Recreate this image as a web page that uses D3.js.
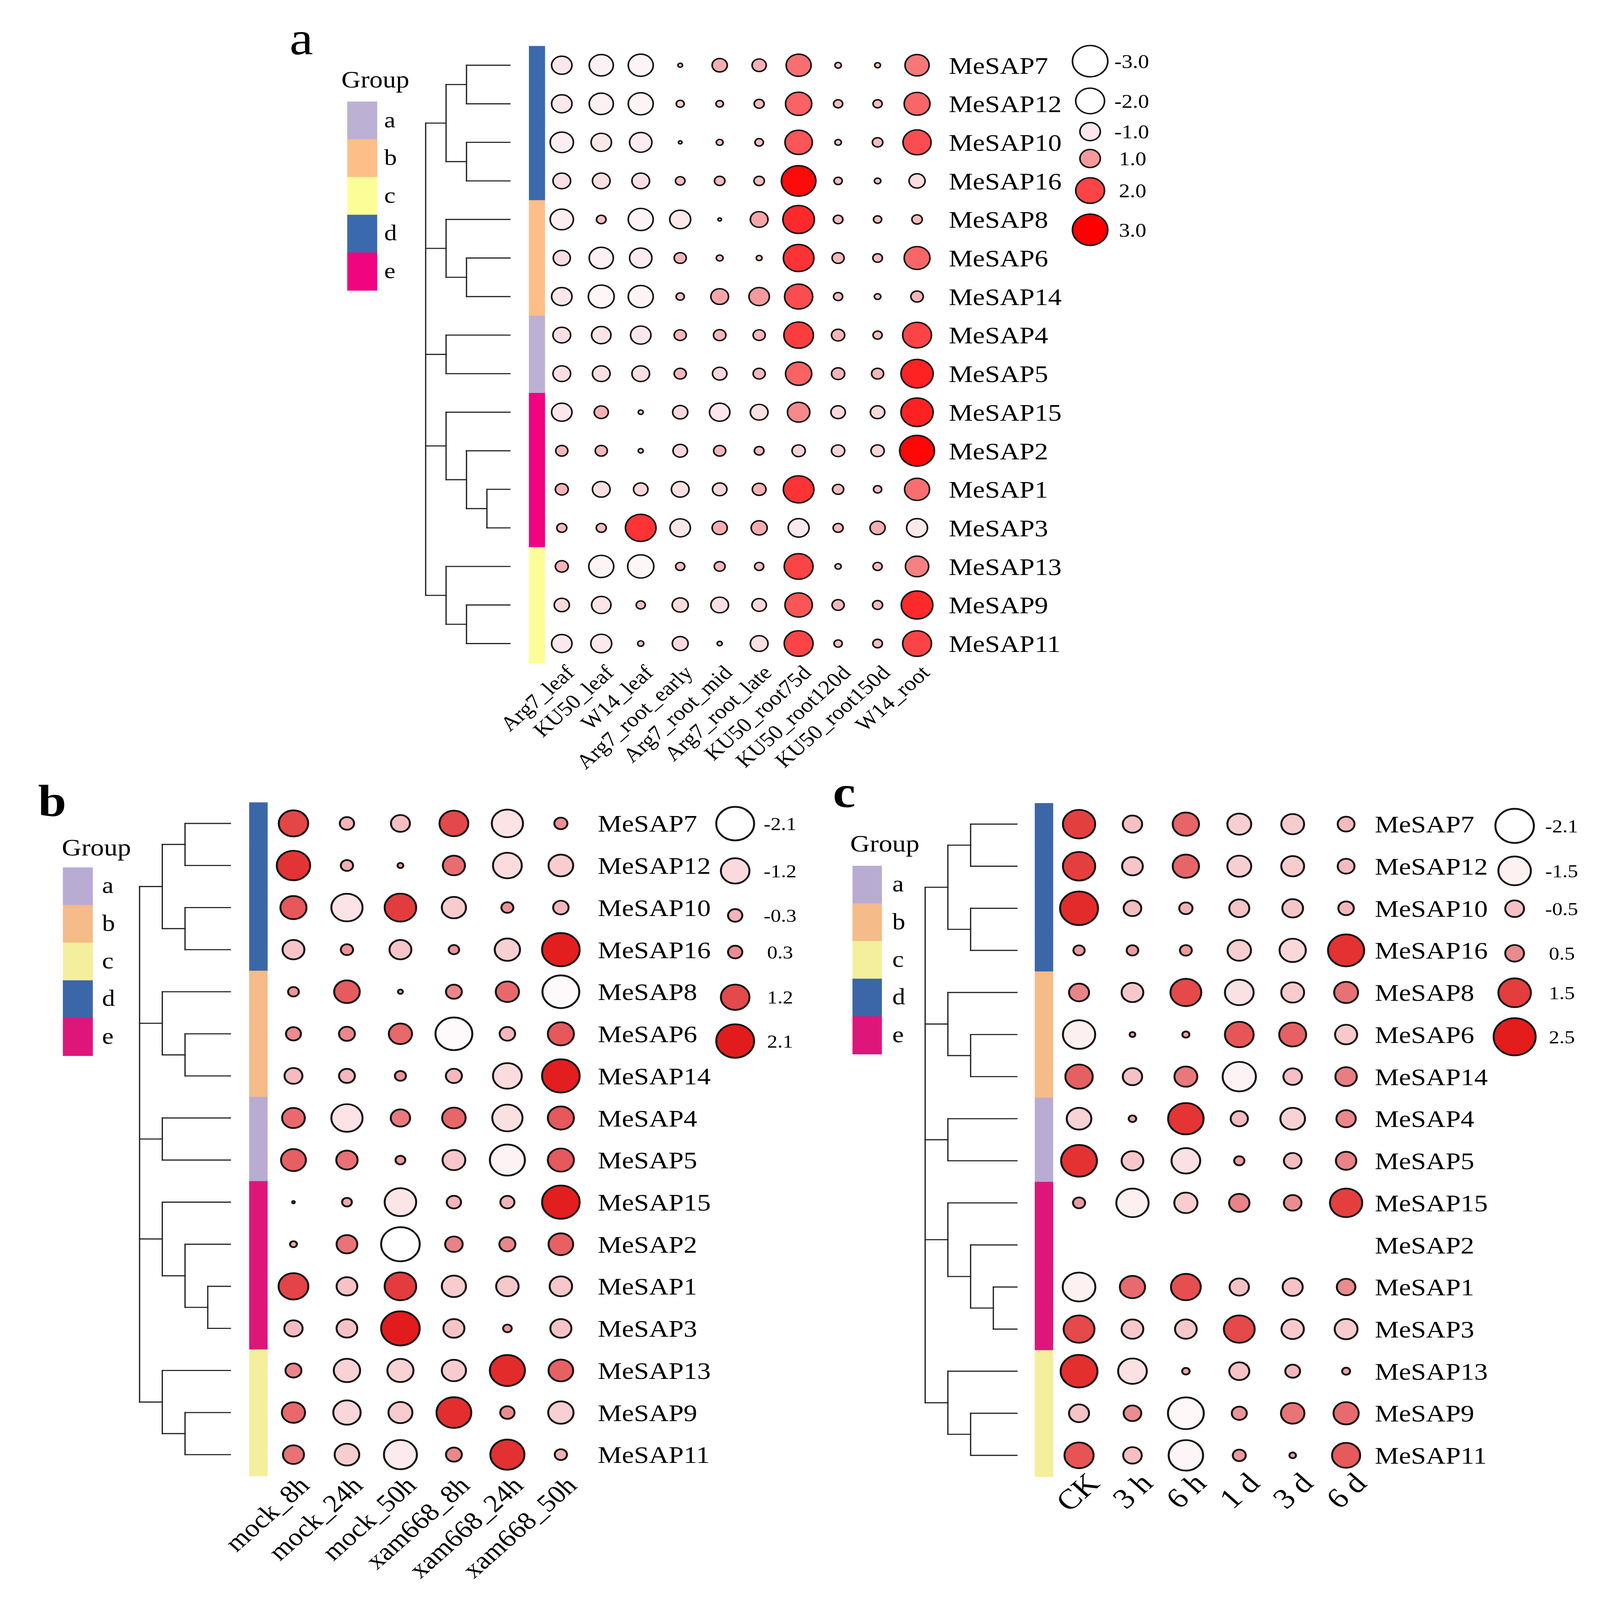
<!DOCTYPE html>
<html lang="en">
<head>
<meta charset="UTF-8">
<title>MeSAP expression bubble heatmaps</title>
<script src="https://d3js.org/d3.v7.min.js"></script>
<style>
  html, body { margin: 0; padding: 0; background: #fff; overflow: hidden; }
  svg { display: block; width: 100vw; height: 100vh;
        font-family: "Liberation Serif", "Times New Roman", serif; }
</style>
</head>
<body>
<svg id="chart"></svg>
<script>
// ---- data ----
const genes = ["MeSAP7","MeSAP12","MeSAP10","MeSAP16","MeSAP8","MeSAP6","MeSAP14","MeSAP4",
               "MeSAP5","MeSAP15","MeSAP2","MeSAP1","MeSAP3","MeSAP13","MeSAP9","MeSAP11"];
const geneGroups = ["d","d","d","d","b","b","b","a","a","e","e","e","e","c","c","c"];
const groupNames = ["a","b","c","d","e"];

// clustering tree shared by the three panels
const treeSpec = [
  [["MeSAP7","MeSAP12"],["MeSAP10","MeSAP16"]],
  ["MeSAP8",["MeSAP6","MeSAP14"]],
  ["MeSAP4","MeSAP5"],
  ["MeSAP15",["MeSAP2",["MeSAP1","MeSAP3"]]],
  ["MeSAP13",["MeSAP9","MeSAP11"]]
];

const tissues = ["Arg7_leaf","KU50_leaf","W14_leaf","Arg7_root_early","Arg7_root_mid",
                 "Arg7_root_late","KU50_root75d","KU50_root120d","KU50_root150d","W14_root"];
const valuesA = [
  [-1.0,-1.4,-1.5, 0.05, 0.55, 0.48, 1.5, 0.1, 0.08, 1.4],
  [-1.0,-1.4,-1.5,-0.15, 0.13, 0.24, 1.65,0.2, 0.2, 1.6],
  [-1.3,-1.0,-1.2, 0.03, 0.11, 0.17, 1.8, 0.1, 0.26, 1.9],
  [-0.75,-0.75,-0.75,0.22,0.26, 0.26, 2.85,0.16,0.1,-0.62],
  [-1.3, 0.22,-1.5,-1.05, 0.03, 0.75, 2.4, 0.22,0.16, 0.26],
  [-0.7,-1.4,-1.2, 0.35, 0.11, 0.08, 2.25,0.35,0.22, 1.6],
  [-1.0,-1.6,-1.5, 0.16, 0.75, 1.0, 1.9, 0.2, 0.1, 0.37],
  [-0.75,-0.9,-1.0,0.35, 0.37, 0.35, 2.1, 0.42,0.2, 2.0],
  [-0.75,-0.75,-0.75,0.35,-0.5, 0.35, 1.65,0.42,0.35, 2.5],
  [-1.0, 0.48, 0.06,-0.55,-1.0,-0.75, 1.2,-0.5,-0.5, 2.5],
  [0.35, 0.35, 0.06,-0.5, 0.35, 0.22,-0.42,-0.42,-0.42,2.9],
  [0.4,-0.75,-0.5,-0.75,-0.5, 0.45, 2.25, 0.3, 0.16, 1.5],
  [0.24, 0.24, 2.25,-1.0, 0.55, 0.62,-1.05,0.24,0.55,-1.05],
  [0.4,-1.5,-1.65, 0.2, 0.28, 0.2, 2.0, 0.09, 0.2, 1.3],
  [-0.55,-0.9, 0.2,-0.62,-0.75,-0.5, 1.8, 0.35,0.24, 2.4],
  [-1.0,-1.05,0.09,-0.6, 0.06,-0.75, 2.0, 0.16,0.22, 2.0]
];

const treatments = ["mock_8h","mock_24h","mock_50h","xam668_8h","xam668_24h","xam668_50h"];
const valuesB = [
  [1.27,-0.3,-0.53, 1.22,-1.43, 0.25],
  [1.63,-0.22, 0.05, 0.72,-1.22,-0.89],
  [1.0,-1.43, 1.46,-0.86, 0.21,-0.35],
  [-0.7, 0.22,-0.7, 0.16,-0.94, 2.07],
  [0.17, 0.96, 0.035,0.37, 0.79,-1.99],
  [0.33, 0.37, 0.79,-1.99,-0.35, 1.0],
  [-0.47,-0.37,0.18,-0.38,-1.22, 2.07],
  [0.76,-1.43, 0.55, 0.81,-1.34, 1.0],
  [0.91, 0.67, 0.14,-0.76,-1.8, 1.0],
  [0.01,-0.14,-1.46,-0.3,-0.29, 2.07],
  [-0.07,0.63,-2.18, 0.45, 0.38, 0.89],
  [1.3,-0.63, 1.46,-0.86,-0.74,-0.74],
  [-0.49,-0.63,2.18,-0.65, 0.11,-0.65],
  [0.37,-1.02,-1.0,-0.86, 1.8, 0.89],
  [0.79,-1.1,-0.84, 1.77, 0.3,-0.94],
  [0.65,-0.89,-1.6, 0.37, 1.7,-0.22]
];

const times = ["CK","3 h","6 h","1 d","3 d","6 d"];
const valuesC = [
  [1.48,-0.53, 0.98,-0.81,-0.74,-0.4],
  [1.48,-0.61, 0.98,-0.81,-0.74,-0.4],
  [2.04,-0.44,-0.25,-0.57,-0.61,-0.34],
  [0.18, 0.19, 0.2,-0.78,-0.98, 1.85],
  [0.57,-0.67, 1.35,-1.17,-0.74, 0.81],
  [-1.48,0.045,0.07, 1.17, 1.03,-0.69],
  [1.06,-0.53, 0.74,-1.57,-0.49, 0.65],
  [-0.86,0.08, 1.78,-0.42,-0.86, 0.53],
  [1.82,-0.67,-1.17, 0.15,-0.44, 0.59],
  [0.21,-1.48,-0.76, 0.59, 0.44, 1.48],
  [null,null,null,null,null,null],
  [-1.51,0.9, 1.26,-0.53,-0.57, 0.49],
  [1.35,-0.67,-0.67, 1.35,-0.71,-0.74],
  [1.92,-1.17, 0.08,-0.57,-0.31, 0.09],
  [-0.57,0.44,-1.82, 0.32, 0.78, 0.9],
  [1.2,-0.49,-1.68, 0.24, 0.06, 1.12]
];

const legendA = [-3.0,-2.0,-1.0,1.0,2.0,3.0];
const legendB = [-2.1,-1.2,-0.3,0.3,1.2,2.1];
const legendC = [-2.1,-1.5,-0.5,0.5,1.5,2.5];

// ---- canvas ----
const W = 1387, H = 1564.6;
const svg = d3.select("#chart")
  .attr("viewBox", `0 0 ${W} ${H}`)
  .attr("preserveAspectRatio", "none");
svg.append("rect").attr("width", W).attr("height", H).attr("fill", "#fff");

const groupColorsA = {a:"#bdb0d5", b:"#fdbf87", c:"#fdfd98", d:"#3a6aad", e:"#f00480"};
const groupColorsBC = {a:"#b9acd2", b:"#f5bb88", c:"#f4ef9c", d:"#3b67a8", e:"#df167a"};

const fmt = v => v.toFixed(1);

const panels = [
  { letter:"a", letterX:251, letterY:53, letterSize:46, letterWeight:"normal",
    groupX:296, groupY:85.6, swX:301, swY:99.3, swW:26, swH:36.9, swLabelX:333, groupSize:23,
    groupColors: groupColorsA,
    rootX:369, step:17.7, leafX:442, barX:458.5, barW:14,
    cols: tissues, values: valuesA,
    x0:487, dx:34.22, y0:63.8, dy:37.7, labelX:822.4, labelSize:23.5,
    vMax:3, rMax:15.3, strokeW:1.4,
    colorDomain:[-3,-2,-1,0,1,2,3],
    colorRange:["#ffffff","#ffffff","#fce8eb","#f7c6ca","#f59a9c","#fc4446","#ff0000"],
    legend: legendA, legendX:945,
    legendY:[59.8,98.7,128.7,155,186.3,224.7], legendLabelX:[966,970], legendSize:19,
    colDx:12, colY:659, colSize:20 },
  { letter:"b", letterX:33, letterY:798, letterSize:44, letterWeight:"bold",
    groupX:53.6, groupY:836.5, swX:54.5, swY:848.2, swW:26, swH:36.8, swLabelX:88.5, groupSize:23.5,
    groupColors: groupColorsBC,
    rootX:121, step:19.7, leafX:199.7, barX:216, barW:16,
    cols: treatments, values: valuesB,
    x0:254.4, dx:46.36, y0:805.2, dy:41.15, labelX:518.2, labelSize:23.5,
    vMax:2.1, rMax:16.4, strokeW:1.7,
    colorDomain:[-2.1,-1.2,-0.3,0.3,1.2,2.1],
    colorRange:["#ffffff","#fadadd","#f4b4b8","#ec8c91","#e4494c","#e21c1c"],
    legend: legendB, legendX:637.3,
    legendY:[805.4,851.6,895.2,931,975.2,1018], legendLabelX:[662,665], legendSize:18,
    colDx:15, colY:1454, colSize:24.5 },
  { letter:"c", letterX:722, letterY:789, letterSize:44, letterWeight:"bold",
    groupX:737, groupY:832.8, swX:739, swY:846.6, swW:25.5, swH:36.8, swLabelX:773.5, groupSize:23.5,
    groupColors: groupColorsBC,
    rootX:802, step:19.7, leafX:881.5, barX:897, barW:16,
    cols: times, values: valuesC,
    x0:935.4, dx:46.3, y0:805.9, dy:41.15, labelX:1191.8, labelSize:23.5,
    vMax:2.5, rMax:18.2, strokeW:1.7,
    colorDomain:[-2.1,-1.5,-0.5,0.5,1.5,2.5],
    colorRange:["#ffffff","#fdf1f2","#f5c0c4","#e98a8e","#e43d3d","#e31c1c"],
    legend: legendC, legendX:1313,
    legendY:[807.6,851.6,888.6,932.2,970.8,1013.8], legendLabelX:[1339.5,1342.7], legendSize:18,
    colDx:19, colY:1452, colSize:28 }
];

function toNode(t) {
  return Array.isArray(t) ? {children: t.map(toNode)} : {name: t};
}

function drawPanel(p) {
  const g = svg.append("g");

  const y = d3.scalePoint().domain(genes).range([p.y0, p.y0 + p.dy * (genes.length - 1)]);
  const x = d3.scalePoint().domain(p.cols).range([p.x0, p.x0 + p.dx * (p.cols.length - 1)]);
  const r = d3.scaleSqrt().domain([0, p.vMax]).range([0, p.rMax]);
  const color = d3.scaleLinear().domain(p.colorDomain).range(p.colorRange).clamp(true);

  // panel letter
  g.append("text")
    .attr("x", p.letterX).attr("y", p.letterY)
    .attr("font-size", p.letterSize).attr("font-weight", p.letterWeight)
    .text(p.letter);

  // group legend
  g.append("text")
    .attr("x", p.groupX).attr("y", p.groupY)
    .attr("font-size", p.groupSize)
    .text("Group");
  groupNames.forEach((n, i) => {
    g.append("rect")
      .attr("x", p.swX).attr("y", p.swY + i * p.swH)
      .attr("width", p.swW).attr("height", p.swH + 0.4)
      .attr("fill", p.groupColors[n]);
    g.append("text")
      .attr("x", p.swLabelX).attr("y", p.swY + (i + 0.5) * p.swH)
      .attr("dy", "0.3em")
      .attr("font-size", p.groupSize - 1)
      .text(n);
  });

  // dendrogram
  const root = d3.hierarchy(toNode(treeSpec));
  root.eachAfter(n => {
    if (!n.children) {
      n.py = y(n.data.name);
      n.px = p.leafX;
    } else {
      n.py = (n.children[0].py + n.children[n.children.length - 1].py) / 2;
      n.px = p.rootX + n.depth * p.step;
    }
  });
  const segs = [];
  root.each(n => {
    if (!n.children) return;
    const c = n.children;
    segs.push([n.px, c[0].py, n.px, c[c.length - 1].py]);
    c.forEach(ch => segs.push([n.px, ch.py, ch.px, ch.py]));
  });
  g.append("g").selectAll("line")
    .data(segs).enter().append("line")
    .attr("x1", d => d[0]).attr("y1", d => d[1])
    .attr("x2", d => d[2]).attr("y2", d => d[3])
    .attr("stroke", "#222").attr("stroke-width", 1.1)
    .attr("stroke-linecap", "square");

  // group colour bar
  g.append("g").selectAll("rect")
    .data(genes).enter().append("rect")
    .attr("x", p.barX).attr("y", d => y(d) - p.dy / 2)
    .attr("width", p.barW).attr("height", p.dy + 0.5)
    .attr("fill", (d, i) => p.groupColors[geneGroups[i]]);

  // bubbles
  const cells = [];
  genes.forEach((gn, i) => p.cols.forEach((c, j) => {
    const v = p.values[i][j];
    if (v !== null) cells.push({gene: gn, col: c, v: v});
  }));
  g.append("g").selectAll("circle")
    .data(cells).enter().append("circle")
    .attr("cx", d => x(d.col)).attr("cy", d => y(d.gene))
    .attr("r", d => r(Math.abs(d.v)))
    .attr("fill", d => color(d.v))
    .attr("stroke", "#111").attr("stroke-width", p.strokeW);

  // row labels
  g.append("g").selectAll("text")
    .data(genes).enter().append("text")
    .attr("x", p.labelX).attr("y", d => y(d))
    .attr("dy", "0.35em")
    .attr("font-size", p.labelSize)
    .text(d => d);

  // column labels
  g.append("g").selectAll("text")
    .data(p.cols).enter().append("text")
    .attr("transform", d => `translate(${x(d) + p.colDx},${p.colY}) rotate(-45)`)
    .attr("text-anchor", "end")
    .attr("font-size", p.colSize)
    .text(d => d);

  // size / colour legend
  const lg = g.append("g");
  p.legend.forEach((v, i) => {
    lg.append("circle")
      .attr("cx", p.legendX).attr("cy", p.legendY[i])
      .attr("r", r(Math.abs(v)))
      .attr("fill", color(v))
      .attr("stroke", "#111").attr("stroke-width", p.strokeW);
    lg.append("text")
      .attr("x", v < 0 ? p.legendLabelX[0] : p.legendLabelX[1])
      .attr("y", p.legendY[i]).attr("dy", "0.35em")
      .attr("font-size", p.legendSize)
      .text(fmt(v));
  });
}

panels.forEach(drawPanel);
</script>
</body>
</html>
